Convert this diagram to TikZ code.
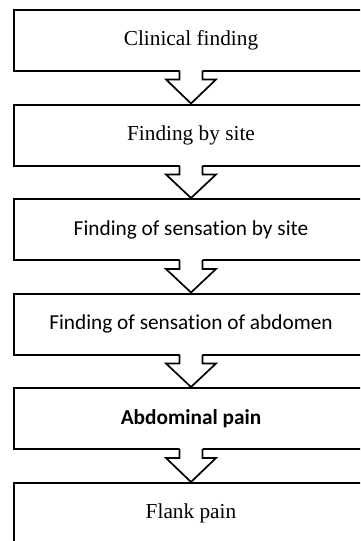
\documentclass[tikz,border=0pt]{standalone}
\usepackage{fontspec}
\setmainfont{Liberation Serif}
\newfontfamily\calib[Ligatures=NoCommon]{Carlito}
\usetikzlibrary{calc}
\newcommand\flowarrow[2]{%
  \fill[white] ($(#1.south)+(-11.5,-3)$) -- ($(#1.south)+(-11.5,8)$) -- ($(#1.south)+(-25,8)$)
    -- (#2.north) -- ($(#1.south)+(25,8)$) -- ($(#1.south)+(11.5,8)$) -- ($(#1.south)+(11.5,-3)$) -- cycle;
  \draw[arrowline] ($(#1.south)+(-11.5,-1)$) -- ($(#1.south)+(-11.5,8)$) -- ($(#1.south)+(-25,8)$)
    -- (#2.north) -- ($(#1.south)+(25,8)$) -- ($(#1.south)+(11.5,8)$) -- ($(#1.south)+(11.5,-1)$);
}
\begin{document}
\begin{tikzpicture}[x=1pt,y=-1pt,
  box/.style={draw, line width=2pt, minimum width=354pt, minimum height=61pt,
    inner sep=0pt, font=\fontsize{21.3}{25}\selectfont},
  arrowline/.style={line width=1.7pt, line join=miter}]
\useasboundingbox (0,0) rectangle (360,541);
\clip (0,0) rectangle (360,541);
\node[box] (n1) at (191,40) {Clinical finding};
\node[box] (n2) at (191,135) {Finding by site};
\node[box] (n3) at (191,229.5) {\calib Finding of sensation by site};
\node[box] (n4) at (191,324) {\calib Finding of sensation of abdomen};
\node[box] (n5) at (191,418.5) {\calib\bfseries Abdominal pain};
\node[box] (n6) at (191,513.5) {Flank pain};
\flowarrow{n1}{n2}
\flowarrow{n2}{n3}
\flowarrow{n3}{n4}
\flowarrow{n4}{n5}
\flowarrow{n5}{n6}
\end{tikzpicture}
\end{document}
